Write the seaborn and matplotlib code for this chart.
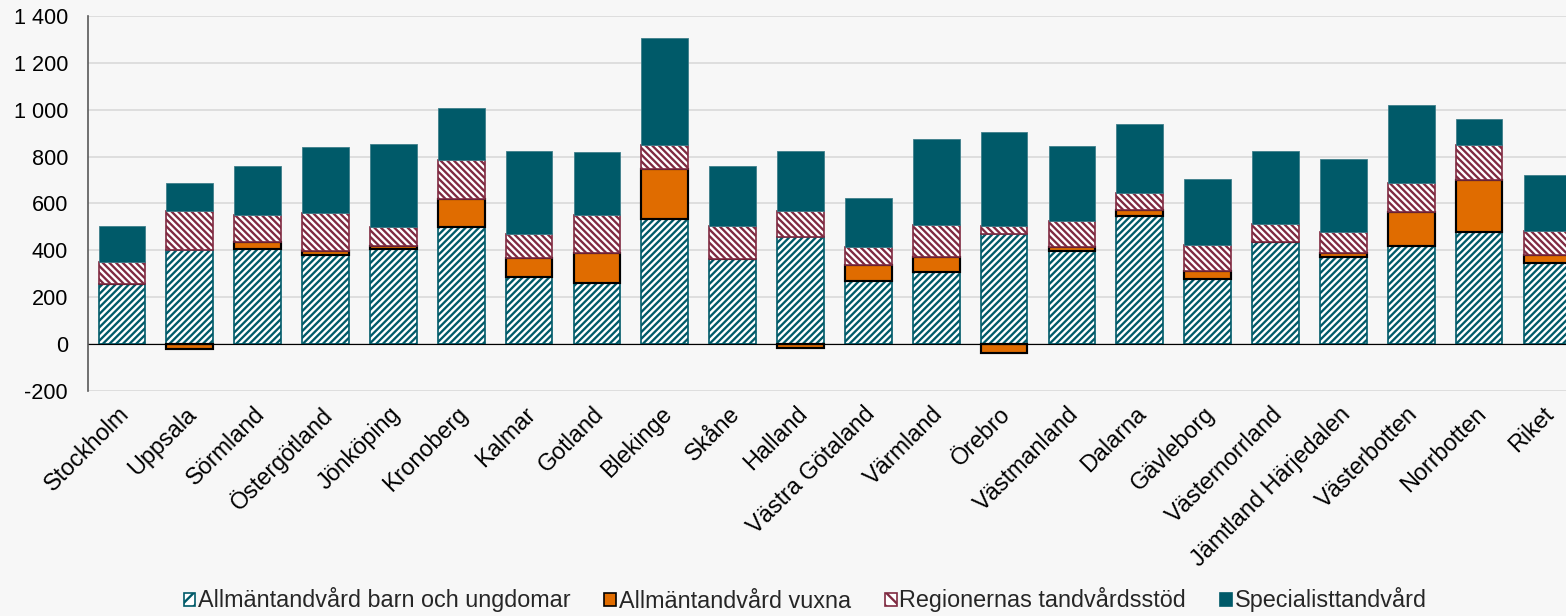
import numpy as np
import pandas as pd
import seaborn as sns
import matplotlib.pyplot as plt
import matplotlib.patches as mpatches
from matplotlib.transforms import ScaledTranslation

regions = ["Stockholm", "Uppsala", "Sörmland", "Östergötland", "Jönköping", "Kronoberg",
           "Kalmar", "Gotland", "Blekinge", "Skåne", "Halland", "Västra Götaland",
           "Värmland", "Örebro", "Västmanland", "Dalarna", "Gävleborg", "Västernorrland",
           "Jämtland Härjedalen", "Västerbotten", "Norrbotten", "Riket"]

barn_unga = [257, 402, 403, 381, 405, 497, 284, 260, 535, 364, 455, 267,
             305, 469, 398, 548, 277, 434, 370, 417, 477, 345]
vuxna = [0, -20, 32, 17, 12, 122, 83, 128, 210, 0, -18, 71,
         64, -40, 14, 23, 35, 0, 18, 145, 221, 33]
tandvardsstod = [93, 167, 117, 160, 80, 164, 104, 161, 103, 138, 112, 74,
                 138, 33, 113, 73, 112, 78, 90, 124, 150, 106]
specialist = [152, 119, 207, 281, 356, 226, 352, 271, 458, 257, 256, 209,
              369, 403, 320, 294, 280, 310, 310, 333, 111, 238]

series_names = ["Allmäntandvård barn och ungdomar", "Allmäntandvård vuxna",
                "Regionernas tandvårdsstöd", "Specialisttandvård"]
yticks = [-200, 0, 200, 400, 600, 800, 1000, 1200, 1400]

teal = "#005a69"
orange = "#e06c00"
maroon = "#7f2a41"
bg = "#f7f7f7"

sns.set_theme(style="white")
plt.rcParams["font.family"] = ["Liberation Sans", "DejaVu Sans"]
plt.rcParams["hatch.linewidth"] = 1.4

styles = [
    dict(color="white", edgecolor=teal, hatch="//////", linewidth=1.0),
    dict(color=orange, edgecolor="black", linewidth=1.3),
    dict(color="white", edgecolor=maroon, hatch="\\\\\\\\\\\\", linewidth=1.0),
    dict(color=teal, edgecolor="#3f7f8b", linewidth=0.5),
]

fig = plt.figure(figsize=(1566 / 120, 616 / 120), dpi=120, facecolor=bg)
ax = fig.add_axes([88 / 1566, 1 - 390.7 / 616, 1 - 88 / 1566, (390.7 - 16) / 616])
ax.set_facecolor(bg)

# positive parts stack upwards, negative parts downwards from zero
pos = np.zeros(len(regions))
neg = np.zeros(len(regions))
for vals, st in zip([barn_unga, vuxna, tandvardsstod, specialist], styles):
    vals = np.array(vals, dtype=float)
    bottom = np.where(vals >= 0, pos, neg)
    df = pd.DataFrame({"region": regions, "value": vals})
    sns.barplot(data=df, x="region", y="value", order=regions, bottom=bottom,
                width=0.688, saturation=1, errorbar=None, ax=ax, **st)
    pos = pos + np.clip(vals, 0, None)
    neg = neg + np.clip(vals, None, 0)

ax.axhline(0, color="black", lw=0.7, zorder=1.5)
ax.set_xlim(-0.5, 21.28)
ax.set_ylim(-200, 1400)
ax.set_yticks(yticks)
ax.set_yticklabels([f"{v:,}".replace(",", " ") for v in yticks])
ax.yaxis.grid(True, color="#d9d9d9", lw=1.0)
ax.set_axisbelow(True)
for s in ["top", "right", "bottom"]:
    ax.spines[s].set_visible(False)
ax.spines["left"].set_color("#595959")
ax.spines["left"].set_linewidth(1.0)
ax.tick_params(axis="y", length=0, pad=12, labelsize=13, labelcolor="black")
ax.tick_params(axis="x", length=0, pad=7, labelsize=14, labelcolor="black")
ax.set_xlabel("")
ax.set_ylabel("")
offset = ScaledTranslation(-5 / 120, 0, fig.dpi_scale_trans)
for lab in ax.get_xticklabels():
    lab.set_rotation(45)
    lab.set_ha("right")
    lab.set_va("top")
    lab.set_rotation_mode("anchor")
    lab.set_transform(lab.get_transform() + offset)

handles = [
    mpatches.Patch(facecolor="white", edgecolor=teal, hatch="///", label=series_names[0]),
    mpatches.Patch(facecolor=orange, edgecolor="black", label=series_names[1]),
    mpatches.Patch(facecolor="white", edgecolor=maroon, hatch="\\\\\\", label=series_names[2]),
    mpatches.Patch(facecolor=teal, edgecolor=teal, label=series_names[3]),
]
fig.legend(handles=handles, loc="center", bbox_to_anchor=(805 / 1566, 16 / 616), ncol=4,
           frameon=False, fontsize=14, handlelength=0.5, handleheight=0.5,
           handletextpad=0.12, columnspacing=1.45)

fig.savefig("out.png", dpi=120, facecolor=bg)
